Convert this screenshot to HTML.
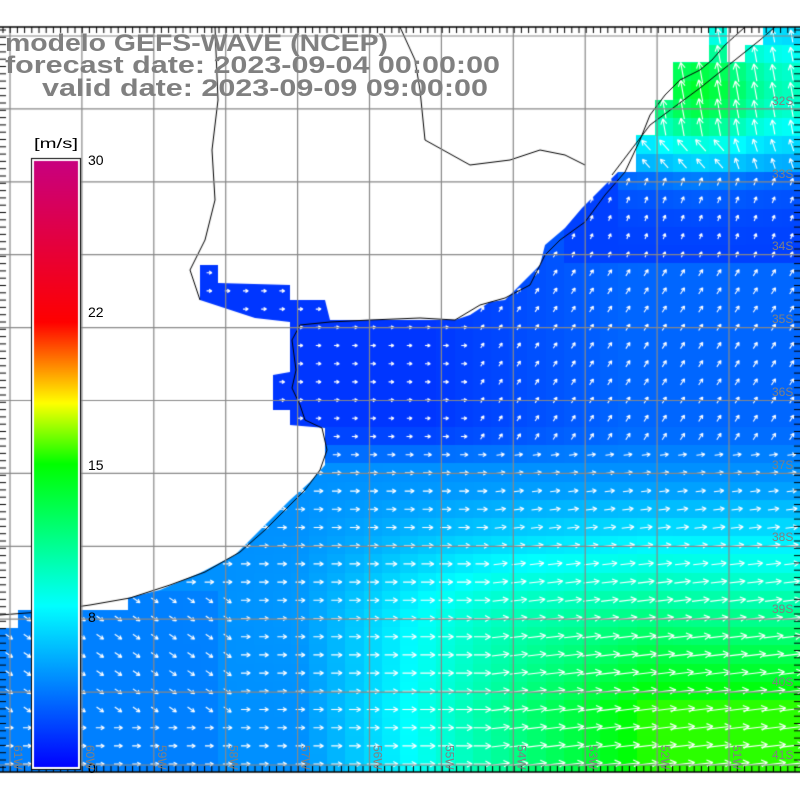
<!DOCTYPE html>
<html><head><meta charset="utf-8">
<style>
html,body{margin:0;padding:0;background:#fff;width:800px;height:800px;overflow:hidden}
#c{position:absolute;left:0;top:0}
#s{position:absolute;left:0;top:0}
</style></head>
<body>
<canvas id="c" width="800" height="800"></canvas>
<svg id="s" width="800" height="800" xmlns="http://www.w3.org/2000/svg" font-family="Liberation Sans, DejaVu Sans, sans-serif">
<g font-weight="bold" fill="#808080" font-size="24">
<text x="5" y="51" textLength="383" lengthAdjust="spacingAndGlyphs">modelo GEFS-WAVE (NCEP)</text>
<text x="5" y="73" textLength="495" lengthAdjust="spacingAndGlyphs">forecast date: 2023-09-04 00:00:00</text>
<text x="42" y="96" textLength="446" lengthAdjust="spacingAndGlyphs">valid date: 2023-09-09 09:00:00</text>
</g>
<g font-size="14" fill="#000">
<text x="34" y="148" textLength="44" lengthAdjust="spacingAndGlyphs">[m/s]</text>
<text x="88" y="165">30</text>
<text x="88" y="317">22</text>
<text x="88" y="470">15</text>
<text x="88" y="622">8</text>
<text x="88" y="773">0</text>
</g>
<g font-size="12" fill="#808080">
<text x="772" y="105">32S</text><text x="772" y="178">33S</text><text x="772" y="250">34S</text>
<text x="772" y="323">35S</text><text x="772" y="396">36S</text><text x="772" y="469">37S</text>
<text x="772" y="541">38S</text><text x="772" y="613">39S</text><text x="772" y="686">40S</text>
<text x="772" y="759">41S</text>
</g>
<g font-size="12" fill="#808080" id="lon"></g>
</svg>
<script>
const c=document.getElementById('c'),x=c.getContext('2d');
const T=27,B=772,L=0,R=800,CS=18.2;
function cl(v){return v<0?0:v>1?1:v}
function spd(px,py){
 let a=cl((px-300)/350),b=cl((py-480)/230);
 let sS=4.5+11*a*b+1.5*Math.exp(-(((px-480)/140)**2+((py-610)/70)**2));
 if(px<220&&py>600)sS-=0.5;
 let sN=1.7+1.5*cl((px-430)/200);
 if(px>560&&py<260&&py>170)sN=2.0;
 if(px>620) sN+=(6.5+4*Math.exp(-(((px-700)/50)**2)))*Math.exp(-(((py-90)/70)**2));
 let t=cl((py-430)/40);
 return sN*(1-t)+sS*t;
}
const stops=[[0,[0,0,255]],[4,[0,128,255]],[8,[0,255,255]],[15,[0,255,0]],[18,[255,255,0]],[22,[255,0,0]],[30,[200,0,128]]];
function col(s){
 for(let i=0;i<stops.length-1;i++){const[a,ca]=stops[i],[b,cb]=stops[i+1];
  if(s<=b){const t=cl((s-a)/(b-a));return 'rgb('+ca.map((v,k)=>Math.round(v+(cb[k]-v)*t)).join(',')+')';}}
 return 'rgb(200,0,128)';
}
x.save();x.beginPath();x.rect(0,T,800,B-T);x.clip();
for(let j=0;T+j*CS<B;j++)for(let i=0;i*CS<R;i++){
 const cx=i*CS+CS/2,cy=T+j*CS+CS/2;
 x.fillStyle=col(spd(cx,cy));x.fillRect(Math.floor(i*CS),Math.floor(T+j*CS),Math.ceil(CS)+1,Math.ceil(CS)+1);
}
const land=[[0,27],[709,27],[709,62],[673,62],[673,100],[655,100],[655,135],[636,135],[636,172],[618,172],[600,190],[582,208],[565,228],[545,245],[540,265],[520,285],[505,300],[490,302],[470,315],[455,320],[330,320],[325,300],[290,300],[290,285],[218,283],[218,265],[200,265],[200,300],[255,318],[290,322],[290,372],[273,375],[273,410],[290,410],[290,425],[325,428],[325,465],[310,482],[290,500],[272,518],[255,535],[235,555],[200,573],[160,590],[128,598],[128,610],[18,610],[18,628],[0,628]];
const land2=[[727,27],[763,27],[763,45],[745,45],[745,62],[727,62]];
function poly(p){x.beginPath();x.moveTo(p[0][0],p[0][1]);for(const q of p)x.lineTo(q[0],q[1]);x.closePath();}
x.fillStyle='#fff';poly(land);x.fill();poly(land2);x.fill();
function ang(px,py){
 if(py>450){ if(px<230&&py>600&&py<720)return 0.6; if(px>500)return -0.12; return 0;}
 if(py<135)return -1.75;
 if(py<175)return px<720?-2.3:-1.9;
 if(py<260&&px>560)return -1.2;
 if(px>480)return -1.0;
 return 0;
}
x.strokeStyle='#fff';x.lineWidth=1.1;
for(let j=0;T+j*CS<B;j++)for(let i=0;i*CS<R;i++){
 const cx=i*CS+CS/2,cy=T+j*CS+CS/2;
 poly(land);if(x.isPointInPath(cx,cy))continue;
 poly(land2);if(x.isPointInPath(cx,cy))continue;
 const s=spd(cx,cy),a=ang(cx,cy),len=Math.min(30,3+s*1.4);
 const dx=Math.cos(a)*len/2,dy=Math.sin(a)*len/2;
 x.beginPath();x.moveTo(cx-dx,cy-dy);x.lineTo(cx+dx,cy+dy);
 const h=Math.min(7,2+len*0.25);
 x.moveTo(cx+dx,cy+dy);x.lineTo(cx+dx-Math.cos(a-0.5)*h,cy+dy-Math.sin(a-0.5)*h);
 x.moveTo(cx+dx,cy+dy);x.lineTo(cx+dx-Math.cos(a+0.5)*h,cy+dy-Math.sin(a+0.5)*h);
 x.stroke();
}
x.restore();
x.strokeStyle='#000';x.lineWidth=1;
function line(p){x.beginPath();x.moveTo(p[0][0],p[0][1]);for(const q of p)x.lineTo(q[0],q[1]);x.stroke();}
line([[0,615],[40,612],[90,605],[130,598],[170,585],[205,572],[240,552],[265,530],[285,510],[305,490],[320,470],[327,450],[322,428],[305,420],[300,405],[292,388],[296,370],[292,340],[300,325],[330,322],[370,320],[420,318],[455,320],[480,305],[505,298],[530,285],[545,255],[560,240],[585,222],[605,195],[625,172],[640,140],[650,115],[665,95],[680,80],[700,70],[712,60],[725,45],[745,27]]);
line([[200,300],[190,270],[205,240],[215,200],[212,150],[218,100],[215,27]]);
line([[400,27],[415,60],[420,90],[425,140],[470,165],[510,160],[540,150],[565,155],[585,165]]);
line([[612,175],[650,125],[700,88],[760,40],[775,27]]);
x.strokeStyle='#888';x.lineWidth=1.2;
for(let i=0;i<12;i++){const gx=10+i*71.9;x.beginPath();x.moveTo(gx,T);x.lineTo(gx,B);x.stroke();}
for(let j=0;j<11;j++){const gy=36+j*72.9;x.beginPath();x.moveTo(L,gy);x.lineTo(R,gy);x.stroke();}
x.strokeStyle='#000';x.lineWidth=1.5;
x.beginPath();x.moveTo(0,T);x.lineTo(800,T);x.moveTo(0,B);x.lineTo(800,B);x.stroke();
x.lineWidth=1;
for(let gx=3;gx<800;gx+=7.2){x.beginPath();x.moveTo(gx,T);x.lineTo(gx,T+6);x.moveTo(gx,B);x.lineTo(gx,B-6);x.stroke();}
for(let gy=T+3;gy<B;gy+=7.3){x.beginPath();x.moveTo(0,gy);x.lineTo(6,gy);x.moveTo(800,gy);x.lineTo(794,gy);x.stroke();}
const g=x.createLinearGradient(0,768,0,160);
for(const[s,cc] of stops)g.addColorStop(s/30,'rgb('+cc.join(',')+')');
x.fillStyle='#000';x.fillRect(31,158,50,612);
x.fillStyle='#fff';x.fillRect(32,159,48,610);
x.fillStyle=g;x.fillRect(34,161,44,606);
const lg=document.getElementById('lon');
const names=['61W','60W','59W','58W','57W','56W','55W','54W','53W','52W','51W'];
names.forEach((n,i)=>{const t=document.createElementNS('http://www.w3.org/2000/svg','text');
 const gx=14+i*71.9;t.setAttribute('transform','translate('+gx+',745) rotate(90)');t.textContent=n;lg.appendChild(t);});
</script>
</body></html>
